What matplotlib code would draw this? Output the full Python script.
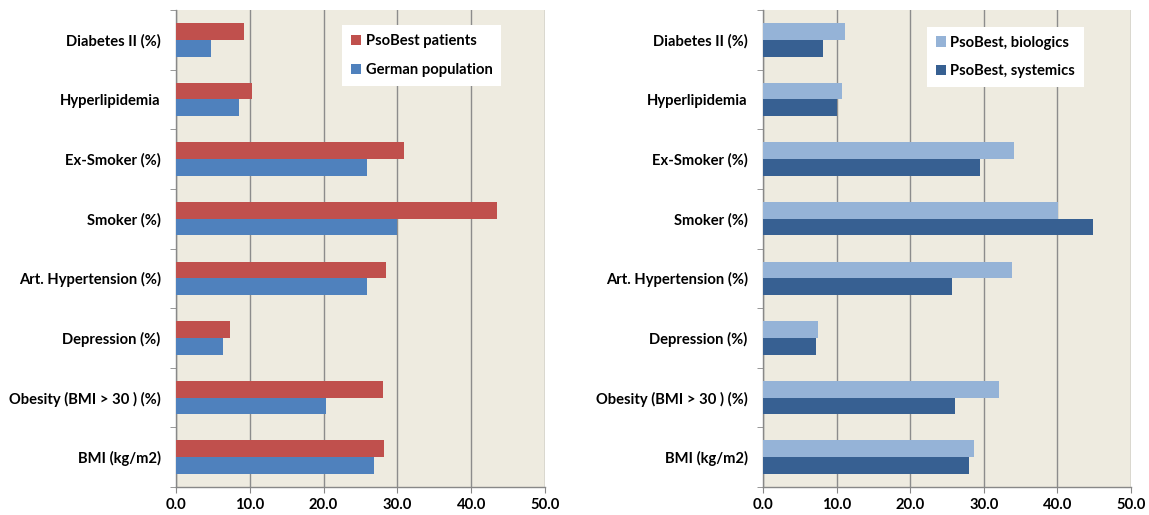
import matplotlib
matplotlib.use("Agg")
import matplotlib.pyplot as plt
import numpy as np

categories = ["BMI (kg/m2)", "Obesity (BMI > 30 ) (%)", "Depression (%)",
              "Art. Hypertension (%)", "Smoker (%)", "Ex-Smoker (%)",
              "Hyperlipidemia", "Diabetes II (%)"]
psobest_patients = [28.2, 28.0, 7.3, 28.5, 43.5, 30.9, 10.3, 9.2]
german_population = [26.8, 20.3, 6.4, 25.9, 29.9, 25.9, 8.5, 4.7]
psobest_biologics = [28.7, 32.1, 7.5, 33.8, 40.1, 34.1, 10.7, 11.1]
psobest_systemics = [28.0, 26.1, 7.2, 25.7, 44.8, 29.5, 10.1, 8.2]
xticks = [0, 10, 20, 30, 40, 50]
xticklabels = ["0.0", "10.0", "20.0", "30.0", "40.0", "50.0"]

plt.rcParams['font.family'] = ['Lato', 'DejaVu Sans']
fig = plt.figure(figsize=(11.49, 5.15), dpi=100)
W, H = 1149, 515
FS = 10.6

def make_panel(left_px, right_px, top_vals, bot_vals, top_color, bot_color,
               top_label, bot_label, leg_anchor):
    top_px, bottom_px = 10, 487
    ax = fig.add_axes([left_px / W, (H - bottom_px) / H,
                       (right_px - left_px) / W, (bottom_px - top_px) / H])
    ax.set_facecolor("#EEEBE0")
    y = np.arange(len(categories))
    h = 0.28
    ax.barh(y + h / 2, top_vals, height=h, color=top_color, label=top_label, zorder=3)
    ax.barh(y - h / 2, bot_vals, height=h, color=bot_color, label=bot_label, zorder=3)
    ax.set_xlim(0, 50)
    ax.set_ylim(-0.5, len(categories) - 0.5)
    ax.set_xticks(xticks)
    ax.set_xticklabels(xticklabels, fontsize=FS, fontweight="bold")
    ax.set_yticks(y)
    ax.set_yticklabels(categories, fontsize=FS, fontweight="bold")
    ax.set_yticks(np.arange(-0.5, len(categories), 1.0), minor=True)
    ax.tick_params(axis="y", which="major", length=0, pad=11)
    ax.tick_params(axis="y", which="minor", length=4, color="#888888")
    ax.tick_params(axis="x", which="major", length=4, color="#888888", pad=4)
    ax.grid(axis="x", color="#8C8C8C", linewidth=1.0, zorder=1)
    for s in ["top", "right"]:
        ax.spines[s].set_visible(False)
    for s in ["left", "bottom"]:
        ax.spines[s].set_color("#888888")
        ax.spines[s].set_linewidth(1.0)
    leg = ax.legend(loc="upper left", bbox_to_anchor=leg_anchor, frameon=True,
                    fancybox=False, edgecolor="white", facecolor="white",
                    framealpha=1.0, prop={"size": FS, "weight": "bold"},
                    handlelength=0.7, handleheight=0.7, handletextpad=0.3,
                    labelspacing=1.0, borderpad=0.6, borderaxespad=0)
    leg.get_frame().set_linewidth(0)
    return ax

make_panel(176, 545, psobest_patients, german_population, "#C0504D", "#4F81BD",
           "PsoBest patients", "German population", (0.45, 0.968))
make_panel(763, 1131, psobest_biologics, psobest_systemics, "#95B3D7", "#376092",
           "PsoBest, biologics", "PsoBest, systemics", (0.445, 0.965))

fig.savefig("out.png", dpi=100, facecolor="white")
